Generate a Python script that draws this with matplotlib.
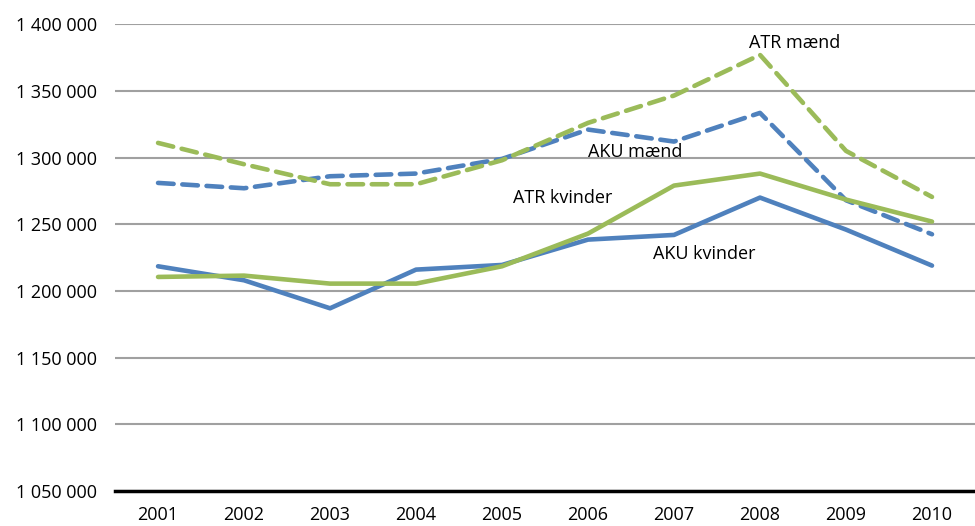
import matplotlib
matplotlib.use("Agg")
from matplotlib import pyplot as plt
from matplotlib.ticker import FuncFormatter

years = ["2001", "2002", "2003", "2004", "2005", "2006", "2007", "2008", "2009", "2010"]
aku_maend = [1281000, 1277000, 1286000, 1288000, 1299000, 1321000, 1312000, 1333500, 1268000, 1242500]
atr_maend = [1311000, 1295000, 1280000, 1280000, 1298000, 1326000, 1346500, 1377000, 1305000, 1270500]
aku_kvinder = [1218500, 1208000, 1187000, 1216000, 1219500, 1238500, 1242000, 1270000, 1246000, 1219000]
atr_kvinder = [1210500, 1211500, 1205500, 1205500, 1218500, 1243000, 1279000, 1288000, 1268500, 1252000]

blue = "#4F81BD"
green = "#9BBB59"

plt.rcParams['font.family'] = ['Liberation Sans Narrow', 'Open Sans', 'DejaVu Sans']

fig = plt.figure(figsize=[9.75, 5.26], dpi=100)
ax = fig.add_axes([0.118, 0.0665, 0.882, 0.8875])

x = range(len(years))
ax.plot(x, aku_maend, color=blue, lw=3.3, dashes=(3.4, 1.9), dash_capstyle="round")
ax.plot(x, atr_maend, color=green, lw=3.3, dashes=(3.4, 1.9), dash_capstyle="round")
ax.plot(x, aku_kvinder, color=blue, lw=3.3, solid_capstyle="round")
ax.plot(x, atr_kvinder, color=green, lw=3.3, solid_capstyle="round")

ax.set_xlim(-0.5, 9.5)
ax.set_ylim(1050000, 1400000)
ax.set_yticks(range(1050000, 1400001, 50000))
ax.yaxis.set_major_formatter(FuncFormatter(lambda v, p: f"{int(v):,}".replace(",", " ")))
ax.set_xticks(list(x))
ax.set_xticklabels(years)
ax.tick_params(axis="both", length=0, labelsize=13)
ax.tick_params(axis="y", pad=13)
ax.tick_params(axis="x", pad=11)

ax.grid(axis="y", color="#A0A0A0", lw=1.5)
ax.set_axisbelow(True)
for s in ["left", "right", "top"]:
    ax.spines[s].set_visible(False)
ax.spines["bottom"].set_linewidth(2.5)
ax.spines["bottom"].set_zorder(3)

ax.text(7.4, 1386000, "ATR mænd", fontsize=13, ha="center", va="center")
ax.text(5.55, 1304000, "AKU mænd", fontsize=13, ha="center", va="center")
ax.text(4.7, 1269500, "ATR kvinder", fontsize=13, ha="center", va="center")
ax.text(6.35, 1228000, "AKU kvinder", fontsize=13, ha="center", va="center")

plt.savefig("out.png", dpi=100)
